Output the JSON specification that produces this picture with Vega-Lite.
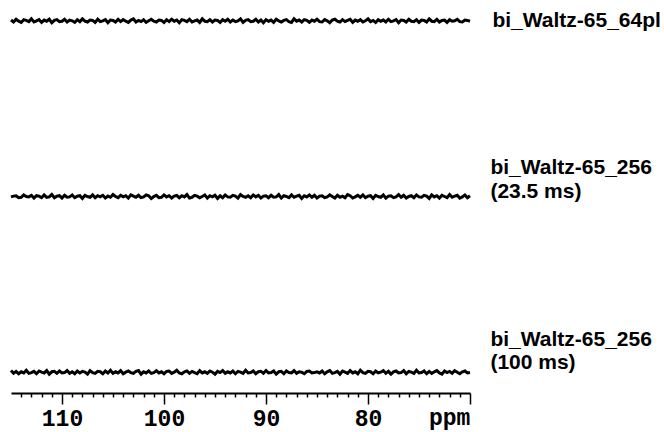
{
  "$schema": "https://vega.github.io/schema/vega-lite/v6.json",
  "autosize": {"type": "none"},
  "padding": {"left": 11, "top": 0, "right": 194, "bottom": 39},
  "width": 459,
  "height": 393,
  "background": "white",
  "config": {"view": {"stroke": null}},
  "datasets": {
    "spec": [
      {"p":115,"a":94.9,"b":49.9,"c":5.7},{"p":114.75,"a":94.4,"b":50.1,"c":5.0},{"p":114.5,"a":95.1,"b":50.2,"c":5.5},{"p":114.25,"a":94.6,"b":49.7,"c":4.9},
      {"p":114,"a":94.3,"b":49.8,"c":5.4},{"p":113.75,"a":95.0,"b":50.4,"c":5.1},{"p":113.5,"a":94.8,"b":50.0,"c":5.8},{"p":113.25,"a":94.5,"b":49.9,"c":5.0},
      {"p":113,"a":95.2,"b":50.3,"c":5.2},{"p":112.75,"a":94.4,"b":49.6,"c":5.5},{"p":112.5,"a":94.7,"b":50.2,"c":4.9},{"p":112.25,"a":95.0,"b":50.1,"c":5.6},
      {"p":112,"a":94.3,"b":49.7,"c":5.3},{"p":111.75,"a":94.9,"b":50.4,"c":5.1},{"p":111.5,"a":94.6,"b":49.8,"c":5.7},{"p":111.25,"a":95.1,"b":49.9,"c":4.8},
      {"p":111,"a":94.2,"b":50.5,"c":5.4},{"p":110.75,"a":94.8,"b":49.7,"c":5.5},{"p":110.5,"a":95.0,"b":50.1,"c":5.0},{"p":110.25,"a":94.5,"b":50.2,"c":5.6},
      {"p":110,"a":94.6,"b":49.6,"c":5.1},{"p":109.75,"a":95.1,"b":50.3,"c":5.2},{"p":109.5,"a":94.4,"b":49.8,"c":5.7},{"p":109.25,"a":94.9,"b":49.9,"c":5.0},
      {"p":109,"a":94.7,"b":50.4,"c":5.4},{"p":108.75,"a":94.3,"b":49.7,"c":4.9},{"p":108.5,"a":95.0,"b":50.1,"c":5.6},{"p":108.25,"a":94.5,"b":50.2,"c":5.1},
      {"p":108,"a":95.2,"b":49.5,"c":5.5},{"p":107.75,"a":94.6,"b":50.3,"c":5.3},{"p":107.5,"a":94.4,"b":50.0,"c":4.8},{"p":107.25,"a":94.9,"b":49.8,"c":5.7},
      {"p":107,"a":94.8,"b":50.4,"c":5.2},{"p":106.75,"a":94.3,"b":49.7,"c":5.0},{"p":106.5,"a":95.1,"b":50.2,"c":5.5},{"p":106.25,"a":94.5,"b":49.9,"c":5.4},
      {"p":106,"a":94.7,"b":50.3,"c":4.9},{"p":105.75,"a":95.0,"b":49.6,"c":5.6},{"p":105.5,"a":94.2,"b":50.1,"c":5.1},{"p":105.25,"a":94.9,"b":49.8,"c":5.8},
      {"p":105,"a":94.8,"b":50.5,"c":5.0},{"p":104.75,"a":94.4,"b":50.0,"c":5.4},{"p":104.5,"a":95.1,"b":49.7,"c":5.1},{"p":104.25,"a":94.5,"b":50.3,"c":5.7},
      {"p":104,"a":95.0,"b":49.9,"c":4.9},{"p":103.75,"a":94.6,"b":50.2,"c":5.3},{"p":103.5,"a":94.3,"b":49.6,"c":5.6},{"p":103.25,"a":94.9,"b":50.4,"c":5.2},
      {"p":103,"a":95.2,"b":50.1,"c":5.0},{"p":102.75,"a":94.4,"b":49.8,"c":5.5},{"p":102.5,"a":94.8,"b":50.3,"c":5.7},{"p":102.25,"a":94.5,"b":49.7,"c":4.8},
      {"p":102,"a":95.0,"b":49.9,"c":5.4},{"p":101.75,"a":94.3,"b":50.4,"c":5.1},{"p":101.5,"a":94.7,"b":50.2,"c":5.6},{"p":101.25,"a":95.1,"b":49.5,"c":5.0},
      {"p":101,"a":94.6,"b":50.0,"c":5.2},{"p":100.75,"a":94.4,"b":50.3,"c":5.7},{"p":100.5,"a":94.9,"b":49.7,"c":5.1},{"p":100.25,"a":94.8,"b":49.8,"c":5.4},
      {"p":100,"a":94.3,"b":50.4,"c":4.9},{"p":99.75,"a":95.0,"b":49.9,"c":5.5},{"p":99.5,"a":94.5,"b":50.2,"c":5.6},{"p":99.25,"a":95.1,"b":49.6,"c":5.0},
      {"p":99,"a":94.6,"b":50.1,"c":5.3},{"p":98.75,"a":94.9,"b":50.3,"c":5.8},{"p":98.5,"a":94.2,"b":49.7,"c":5.1},{"p":98.25,"a":95.0,"b":50.2,"c":4.9},
      {"p":98,"a":94.8,"b":49.9,"c":5.4},{"p":97.75,"a":94.5,"b":50.5,"c":5.6},{"p":97.5,"a":95.1,"b":49.6,"c":5.0},{"p":97.25,"a":94.4,"b":49.8,"c":5.5},
      {"p":97,"a":94.7,"b":50.3,"c":5.2},{"p":96.75,"a":94.9,"b":50.1,"c":4.9},{"p":96.5,"a":94.3,"b":49.7,"c":5.7},{"p":96.25,"a":95.2,"b":50.0,"c":5.1},
      {"p":96,"a":94.6,"b":50.4,"c":5.4},{"p":95.75,"a":94.5,"b":49.6,"c":5.0},{"p":95.5,"a":95.0,"b":50.2,"c":5.6},{"p":95.25,"a":94.4,"b":49.9,"c":5.3},
      {"p":95,"a":94.9,"b":50.3,"c":4.8},{"p":94.75,"a":94.8,"b":49.5,"c":5.5},{"p":94.5,"a":94.3,"b":50.2,"c":5.2},{"p":94.25,"a":95.0,"b":49.7,"c":5.7},
      {"p":94,"a":94.6,"b":50.4,"c":5.0},{"p":93.75,"a":95.1,"b":49.9,"c":5.4},{"p":93.5,"a":94.4,"b":49.8,"c":5.1},{"p":93.25,"a":94.9,"b":50.3,"c":5.6},
      {"p":93,"a":94.5,"b":50.1,"c":4.9},{"p":92.75,"a":94.7,"b":49.6,"c":5.5},{"p":92.5,"a":95.2,"b":50.5,"c":5.3},{"p":92.25,"a":94.3,"b":50.0,"c":5.0},
      {"p":92,"a":94.8,"b":49.8,"c":5.8},{"p":91.75,"a":95.0,"b":50.2,"c":5.1},{"p":91.5,"a":94.5,"b":49.7,"c":5.2},{"p":91.25,"a":94.6,"b":50.4,"c":5.6},
      {"p":91,"a":95.1,"b":49.9,"c":4.9},{"p":90.75,"a":94.4,"b":50.3,"c":5.4},{"p":90.5,"a":94.9,"b":49.6,"c":5.5},{"p":90.25,"a":94.2,"b":50.1,"c":5.0},
      {"p":90,"a":95.0,"b":50.2,"c":5.7},{"p":89.75,"a":94.6,"b":49.7,"c":5.1},{"p":89.5,"a":94.9,"b":50.3,"c":5.2},{"p":89.25,"a":94.3,"b":49.8,"c":5.6},
      {"p":89,"a":95.1,"b":49.9,"c":4.8},{"p":88.75,"a":94.7,"b":50.5,"c":5.4},{"p":88.5,"a":94.4,"b":49.6,"c":5.5},{"p":88.25,"a":94.8,"b":50.2,"c":4.9},
      {"p":88,"a":95.0,"b":50.0,"c":5.6},{"p":87.75,"a":94.5,"b":49.7,"c":5.2},{"p":87.5,"a":94.3,"b":50.4,"c":5.1},{"p":87.25,"a":95.2,"b":49.8,"c":5.7},
      {"p":87,"a":94.6,"b":50.1,"c":5.0},{"p":86.75,"a":94.9,"b":50.3,"c":5.4},{"p":86.5,"a":94.4,"b":49.5,"c":5.3},{"p":86.25,"a":95.0,"b":50.2,"c":4.9},
      {"p":86,"a":94.8,"b":49.9,"c":5.5},{"p":85.75,"a":94.3,"b":50.4,"c":5.6},{"p":85.5,"a":94.9,"b":49.8,"c":5.1},{"p":85.25,"a":94.6,"b":50.3,"c":5.2},
      {"p":85,"a":95.1,"b":49.6,"c":5.4},{"p":84.75,"a":94.5,"b":50.1,"c":5.1},{"p":84.5,"a":94.4,"b":50.2,"c":5.6},{"p":84.25,"a":95.0,"b":49.7,"c":4.9},
      {"p":84,"a":94.7,"b":49.9,"c":5.4},{"p":83.75,"a":94.2,"b":50.4,"c":5.7},{"p":83.5,"a":94.9,"b":50.0,"c":5.0},{"p":83.25,"a":95.1,"b":49.6,"c":5.2},
      {"p":83,"a":94.6,"b":50.3,"c":5.5},{"p":82.75,"a":94.4,"b":49.8,"c":4.8},{"p":82.5,"a":95.0,"b":50.1,"c":5.6},{"p":82.25,"a":94.5,"b":49.7,"c":5.3},
      {"p":82,"a":94.8,"b":50.5,"c":5.0},{"p":81.75,"a":95.1,"b":50.2,"c":5.7},{"p":81.5,"a":94.3,"b":49.6,"c":5.1},{"p":81.25,"a":94.9,"b":49.9,"c":5.4},
      {"p":81,"a":94.6,"b":50.3,"c":4.9},{"p":80.75,"a":95.0,"b":49.8,"c":5.8},{"p":80.5,"a":94.4,"b":50.4,"c":5.2},{"p":80.25,"a":94.7,"b":49.7,"c":5.0},
      {"p":80,"a":95.2,"b":50.1,"c":5.5},{"p":79.75,"a":94.5,"b":50.2,"c":5.4},{"p":79.5,"a":94.8,"b":49.5,"c":4.9},{"p":79.25,"a":94.3,"b":50.3,"c":5.6},
      {"p":79,"a":95.0,"b":50.0,"c":5.1},{"p":78.75,"a":94.6,"b":49.8,"c":5.3},{"p":78.5,"a":94.9,"b":50.4,"c":5.7},{"p":78.25,"a":94.4,"b":49.6,"c":5.0},
      {"p":78,"a":95.1,"b":50.1,"c":5.5},{"p":77.75,"a":94.5,"b":50.2,"c":4.8},{"p":77.5,"a":94.7,"b":49.7,"c":5.4},{"p":77.25,"a":95.0,"b":49.9,"c":5.6},
      {"p":77,"a":94.2,"b":50.5,"c":5.1},{"p":76.75,"a":94.9,"b":49.8,"c":5.2},{"p":76.5,"a":94.8,"b":50.3,"c":5.7},{"p":76.25,"a":94.4,"b":49.6,"c":4.9},
      {"p":76,"a":95.1,"b":50.0,"c":5.5},{"p":75.75,"a":94.6,"b":50.2,"c":5.3},{"p":75.5,"a":94.5,"b":49.7,"c":5.0},{"p":75.25,"a":95.0,"b":50.4,"c":5.8},
      {"p":75,"a":94.3,"b":49.9,"c":5.1},{"p":74.75,"a":94.9,"b":49.8,"c":5.2},{"p":74.5,"a":94.8,"b":50.3,"c":5.6},{"p":74.25,"a":94.4,"b":50.1,"c":4.9},
      {"p":74,"a":95.2,"b":49.5,"c":5.5},{"p":73.75,"a":94.6,"b":50.4,"c":5.0},{"p":73.5,"a":94.5,"b":49.9,"c":5.4},{"p":73.25,"a":95.1,"b":50.2,"c":5.7},
      {"p":73,"a":94.4,"b":49.6,"c":5.1},{"p":72.75,"a":94.8,"b":50.3,"c":4.8},{"p":72.5,"a":94.9,"b":50.0,"c":5.6},{"p":72.25,"a":94.3,"b":49.7,"c":5.2},
      {"p":72,"a":95.0,"b":50.5,"c":5.5},{"p":71.75,"a":94.6,"b":49.8,"c":5.0},{"p":71.5,"a":94.7,"b":50.1,"c":5.7},{"p":71.25,"a":95.1,"b":50.3,"c":5.3},
      {"p":71,"a":94.5,"b":49.6,"c":4.9},{"p":70.75,"a":94.4,"b":49.9,"c":5.4},{"p":70.5,"a":94.9,"b":50.4,"c":5.6},{"p":70.25,"a":94.8,"b":49.7,"c":5.1},
      {"p":70,"a":94.6,"b":50.2,"c":5.2}
    ],
    "labels": [
      {"p": 67.8, "v": 93.1, "t": "bi_Waltz-65_64pl"},
      {"p": 68, "v": 55.7, "t": "bi_Waltz-65_256"},
      {"p": 68, "v": 49.6, "t": "(23.5 ms)"},
      {"p": 68, "v": 12.0, "t": "bi_Waltz-65_256"},
      {"p": 68, "v": 6.1, "t": "(100 ms)"}
    ],
    "unit": [
      {"p": 72, "v": -8.2, "t": "ppm"}
    ]
  },
  "resolve": {"axis": {"x": "independent"}},
  "layer": [
    {
      "data": {"name": "spec"},
      "transform": [{"fold": ["a", "b", "c"], "as": ["trace", "intensity"]}],
      "mark": {"type": "line", "color": "black", "strokeWidth": 3, "interpolate": "linear"},
      "encoding": {
        "x": {
          "field": "p", "type": "quantitative",
          "scale": {"domain": [70, 115], "reverse": true, "nice": false, "zero": false},
          "axis": {
            "orient": "bottom",
            "values": [71,72,73,74,75,76,77,78,79,81,82,83,84,85,86,87,88,89,91,92,93,94,95,96,97,98,99,101,102,103,104,105,106,107,108,109,111,112,113,114],
            "labels": false, "grid": false, "title": null,
            "tickSize": 4, "tickWidth": 1.5, "tickColor": "black",
            "domain": true, "domainWidth": 2, "domainColor": "black"
          }
        },
        "y": {
          "field": "intensity", "type": "quantitative",
          "scale": {"domain": [0, 100], "nice": false, "zero": false},
          "axis": null
        },
        "detail": {"field": "trace"}
      }
    },
    {
      "data": {"name": "labels"},
      "mark": {"type": "text", "font": "Liberation Sans", "fontWeight": "bold", "fontSize": 21, "align": "left", "baseline": "alphabetic", "color": "black"},
      "encoding": {
        "x": {"field": "p", "type": "quantitative", "axis": null},
        "y": {"field": "v", "type": "quantitative", "axis": null},
        "text": {"field": "t"}
      }
    },
    {
      "data": {"name": "unit"},
      "mark": {"type": "text", "font": "Liberation Mono", "fontWeight": "bold", "fontSize": 23, "align": "center", "baseline": "alphabetic", "color": "black"},
      "encoding": {
        "x": {
          "field": "p", "type": "quantitative",
          "axis": {
            "orient": "bottom",
            "values": [110, 100, 90, 80, 70],
            "labelExpr": "datum.value == 70 ? '' : datum.label",
            "grid": false, "title": null, "domain": false,
            "tickSize": 11, "tickWidth": 1.5, "tickColor": "black",
            "labelFont": "Liberation Mono", "labelFontWeight": "bold", "labelFontSize": 23,
            "labelColor": "black", "labelPadding": 3, "labelFlush": false, "labelOverlap": false
          }
        },
        "y": {"field": "v", "type": "quantitative", "axis": null},
        "text": {"field": "t"}
      }
    }
  ]
}
